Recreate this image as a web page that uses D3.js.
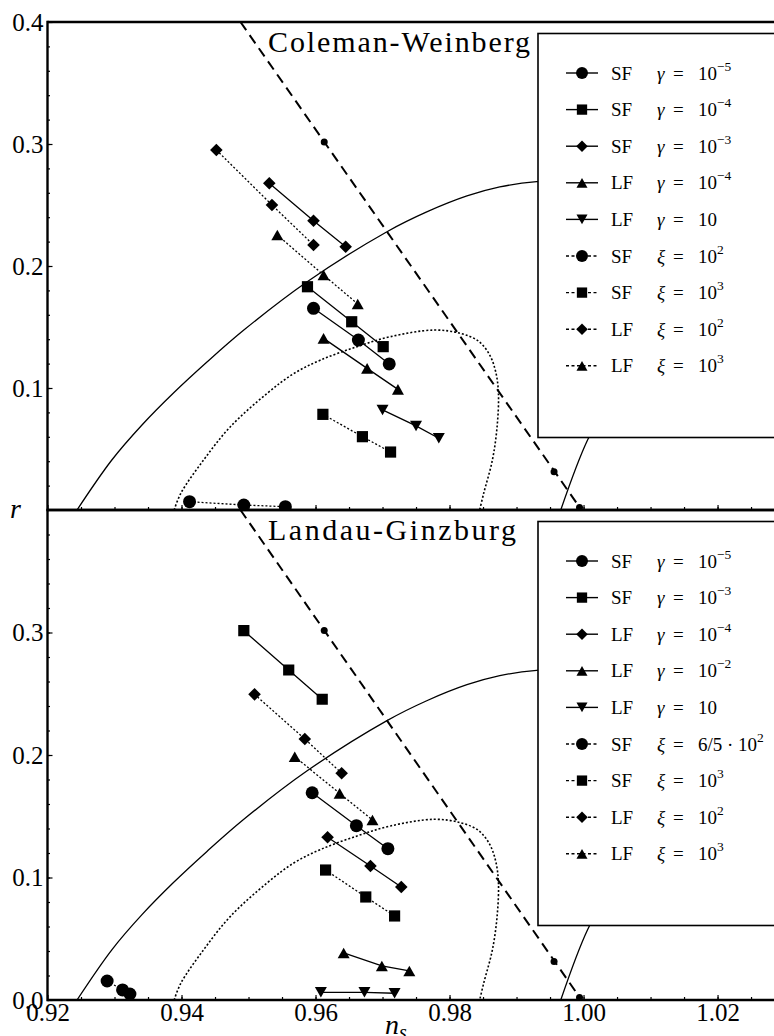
<!DOCTYPE html>
<html>
<head>
<meta charset="utf-8">
<script src="https://cdn.jsdelivr.net/npm/d3@7"></script>
<style>
  body { margin: 0; background: #fff; }
  svg { display: block; }
  svg text { font-family: 'Liberation Serif', serif; }
</style>
</head>
<body>
<div id="root"></div>
<script>
// -------- data (n_s, r) --------
const nsTicks = [0.92, 0.94, 0.96, 0.98, 1.00, 1.02]
const rTicksTop = [0.1, 0.2, 0.3, 0.4]
const rTicksBottom = [0.0, 0.1, 0.2, 0.3]

// observational contours (same in both panels)
const contourOuter = [
  [0.9244, 0], [0.9296, 0.0410], [0.9341, 0.0697], [0.9388, 0.0959], [0.9438, 0.1213],
  [0.9493, 0.1475], [0.9587, 0.1869], [0.9706, 0.2279], [0.9766, 0.2443], [0.9826, 0.2574],
  [0.9875, 0.2648], [0.9930, 0.2691], [0.9980, 0.2700], [1.0020, 0.2650], [1.0050, 0.2500],
  [1.0070, 0.2200], [1.0080, 0.1800], [1.0070, 0.1400], [1.0050, 0.1000], [1.0006, 0.0574],
  [0.9966, 0]
]
const contourInner = [
  [0.9389, 0], [0.9399, 0.0137], [0.9433, 0.0410], [0.9473, 0.0683], [0.9528, 0.0957],
  [0.9568, 0.1120], [0.9608, 0.1230], [0.9662, 0.1339], [0.9712, 0.1421], [0.9777, 0.1475],
  [0.9816, 0.1448], [0.9843, 0.1385], [0.9860, 0.1270], [0.9869, 0.1131], [0.9873, 0.0957],
  [0.9871, 0.0683], [0.9864, 0.0410], [0.9851, 0.0137], [0.9845, 0]
]
const dashedLine = [[0.9488, 0.4], [0.9997, 0]]
const dashedDots = [[0.9613, 0.3016], [0.9956, 0.0314], [0.9994, 0.0020]]

// Coleman-Weinberg
const cwSFg5 = [[0.9597, 0.1653], [0.9664, 0.1393], [0.9710, 0.1197]]
const cwSFg4 = [[0.9588, 0.1830], [0.9654, 0.1543], [0.9701, 0.1339]]
const cwSFg3 = [[0.9531, 0.2678], [0.9597, 0.2371], [0.9645, 0.2158]]
const cwLFg4 = [[0.9612, 0.1407], [0.9677, 0.1161], [0.9723, 0.0989]]
const cwLFg10 = [[0.9700, 0.0820], [0.9750, 0.0689], [0.9784, 0.0588]]
const cwSFx2 = [[0.9412, 0.0068], [0.9493, 0.0041], [0.9555, 0.0027]]
const cwSFx3 = [[0.9611, 0.0784], [0.9670, 0.0601], [0.9712, 0.0475]]
const cwLFx2 = [[0.9452, 0.2951], [0.9535, 0.2500], [0.9597, 0.2172]]
const cwLFx3 = [[0.9543, 0.2254], [0.9612, 0.1926], [0.9663, 0.1689]]

// Landau-Ginzburg
const lgSFg5 = [[0.9595, 0.1692], [0.9661, 0.1423], [0.9708, 0.1235]]
const lgSFg3 = [[0.9493, 0.3015], [0.9560, 0.2694], [0.9610, 0.2455]]
const lgLFg4 = [[0.9618, 0.1328], [0.9682, 0.1094], [0.9728, 0.0922]]
const lgLFg2 = [[0.9642, 0.0384], [0.9699, 0.0278], [0.9740, 0.0237]]
const lgLFg10 = [[0.9608, 0.0063], [0.9673, 0.0063], [0.9718, 0.0055]]
const lgSFx120 = [[0.9289, 0.0155], [0.9312, 0.0082], [0.9323, 0.0049]]
const lgSFx3 = [[0.9615, 0.1061], [0.9675, 0.0841], [0.9718, 0.0686]]
const lgLFx2 = [[0.9509, 0.2495], [0.9584, 0.2131], [0.9639, 0.1851]]
const lgLFx3 = [[0.9569, 0.1986], [0.9636, 0.1687], [0.9685, 0.1469]]

// legend labels: model, symbol, base, exponent
const cwLabels = [
  ['SF', 'γ', '10', '−5'], ['SF', 'γ', '10', '−4'], ['SF', 'γ', '10', '−3'],
  ['LF', 'γ', '10', '−4'], ['LF', 'γ', '10', ''], ['SF', 'ξ', '10', '2'],
  ['SF', 'ξ', '10', '3'], ['LF', 'ξ', '10', '2'], ['LF', 'ξ', '10', '3']
]
const lgLabels = [
  ['SF', 'γ', '10', '−5'], ['SF', 'γ', '10', '−3'], ['LF', 'γ', '10', '−4'],
  ['LF', 'γ', '10', '−2'], ['LF', 'γ', '10', ''], ['SF', 'ξ', '6/5 · 10', '2'],
  ['SF', 'ξ', '10', '3'], ['LF', 'ξ', '10', '2'], ['LF', 'ξ', '10', '3']
]

// marker / line style per legend row (same order in both panels)
const shapes = ['circle', 'square', 'diamond', 'up', 'down', 'circle', 'square', 'diamond', 'up']
const dotted = [false, false, false, false, false, true, true, true, true]

// -------- drawing --------
const FONT = 'Liberation Serif, serif'
const width = 774
const height = 1036

const svg = d3.select('#root').append('svg')
  .attr('width', width)
  .attr('height', height)

const x = d3.scaleLinear().domain([0.92, 1.0285]).range([47.5, 774.5])

function markerPath(shape, big) {
  const s = big ? 1 : 0.92
  if (shape === 'circle') return d3.symbol(d3.symbolCircle, Math.PI * 6.5 * 6.5 * s * s)()
  if (shape === 'square') { const h = 5.6 * s; return `M${-h},${-h}H${h}V${h}H${-h}Z` }
  if (shape === 'diamond') { const h = 6.3 * s; return `M0,${-h}L${h},0L0,${h}L${-h},0Z` }
  const w = 6 * s, h = 5.3 * s
  if (shape === 'up') return `M0,${-h}L${w},${h}L${-w},${h}Z`
  return `M0,${h}L${w},${-h}L${-w},${-h}Z`
}

function panel(opts) {
  const y = d3.scaleLinear().domain([0, 0.4]).range(opts.range)
  const g = svg.append('g')

  const clipId = 'clip-' + opts.id
  svg.append('clipPath').attr('id', clipId)
    .append('rect')
    .attr('x', x(0.92)).attr('y', y(0.4))
    .attr('width', width - x(0.92)).attr('height', y(0) - y(0.4))

  const plot = g.append('g').attr('clip-path', `url(#${clipId})`)
  const line = d3.line().x(d => x(d[0])).y(d => y(d[1]))
  const curve = d3.line().x(d => x(d[0])).y(d => y(d[1])).curve(d3.curveCatmullRom.alpha(0.5))

  plot.append('path').attr('d', curve(contourOuter))
    .attr('fill', 'none').attr('stroke', '#000').attr('stroke-width', 1.3)
  plot.append('path').attr('d', curve(contourInner))
    .attr('fill', 'none').attr('stroke', '#000').attr('stroke-width', 1.6)
    .attr('stroke-dasharray', '2,2')
  plot.append('path').attr('d', line(dashedLine))
    .attr('fill', 'none').attr('stroke', '#000').attr('stroke-width', 2)
    .attr('stroke-dasharray', '10,6')
  plot.selectAll('.dd').data(dashedDots).enter().append('circle')
    .attr('cx', d => x(d[0])).attr('cy', d => y(d[1])).attr('r', 3.5)

  opts.series.forEach((pts, i) => {
    plot.append('path').attr('d', line(pts))
      .attr('fill', 'none').attr('stroke', '#000').attr('stroke-width', 1.3)
      .attr('stroke-dasharray', dotted[i] ? '2,2' : null)
    plot.selectAll(null).data(pts).enter().append('path')
      .attr('d', markerPath(shapes[i], true))
      .attr('transform', d => `translate(${x(d[0])},${y(d[1])})`)
  })

  // minor ticks
  const minorX = d3.range(0.925, 1.03, 0.005)
  g.append('g').attr('transform', `translate(0,${y(0)})`)
    .call(d3.axisBottom(x).tickValues(minorX).tickSizeInner(-3).tickSizeOuter(0).tickFormat(''))
    .call(a => a.select('.domain').remove())
  g.append('g').attr('transform', `translate(${x(0.92)},0)`)
    .call(d3.axisLeft(y).tickValues(d3.range(0.02, 0.4, 0.02)).tickSizeInner(-2.5).tickSizeOuter(0).tickFormat(''))
    .call(a => a.select('.domain').remove())

  // major ticks + labels
  const xa = g.append('g').attr('transform', `translate(0,${y(0)})`)
    .call(d3.axisBottom(x).tickValues(nsTicks).tickSizeInner(-5).tickSizeOuter(0)
      .tickPadding(3).tickFormat(opts.xLabels ? d3.format('.2f') : ''))
  const ya = g.append('g').attr('transform', `translate(${x(0.92)},0)`)
    .call(d3.axisLeft(y).tickValues(opts.yTicks).tickSizeInner(-5).tickSizeOuter(0)
      .tickPadding(4).tickFormat(d3.format('.1f')))
  ;[xa, ya].forEach(a => {
    a.attr('font-family', FONT).attr('font-size', 25)
    a.select('.domain').remove()
  })
  g.selectAll('.tick line').attr('stroke-width', 1.2)

  // frame lines
  g.append('line').attr('x1', x(0.92)).attr('x2', width).attr('y1', y(0)).attr('y2', y(0))
    .attr('stroke', '#000').attr('stroke-width', 2.4)
  g.append('line').attr('x1', x(0.92)).attr('x2', width).attr('y1', y(0.4)).attr('y2', y(0.4))
    .attr('stroke', '#000').attr('stroke-width', 2.4)
  g.append('line').attr('x1', x(0.92)).attr('x2', x(0.92)).attr('y1', y(0.4) - 1.2).attr('y2', y(0) + 1.2)
    .attr('stroke', '#000').attr('stroke-width', 2.4)

  // title
  g.append('text').attr('x', 268).attr('y', y(0.4) + 30)
    .attr('font-size', 30).attr('textLength', opts.titleWidth).attr('lengthAdjust', 'spacing')
    .text(opts.title)

  // legend
  const top = y(0.4) + 11.5
  const lg = g.append('g')
  lg.append('rect').attr('x', 538).attr('y', top).attr('width', 260).attr('height', 404)
    .attr('fill', '#fff').attr('stroke', '#000').attr('stroke-width', 1.6)
  opts.labels.forEach((lab, i) => {
    const ry = top + 39.5 + i * 36.6
    lg.append('line').attr('x1', 566).attr('x2', 598).attr('y1', ry).attr('y2', ry)
      .attr('stroke', '#000').attr('stroke-width', 1.4)
      .attr('stroke-dasharray', dotted[i] ? '3,2.5' : null)
    lg.append('path').attr('d', markerPath(shapes[i], false)).attr('transform', `translate(582,${ry})`)
    lg.append('text').attr('x', 611).attr('y', ry + 6.5).attr('font-size', 19).text(lab[0])
    lg.append('text').attr('x', 657).attr('y', ry + 6.5).attr('font-size', 19)
      .attr('font-style', 'italic').text(lab[1])
    lg.append('text').attr('x', 673).attr('y', ry + 6.5).attr('font-size', 19).text('=')
    const t = lg.append('text').attr('x', 698).attr('y', ry + 6.5).attr('font-size', 19)
    t.append('tspan').text(lab[2])
    if (lab[3]) t.append('tspan').attr('font-size', 13.5).attr('dy', -9).text(lab[3])
  })
}

panel({ id: 'cw', range: [510, 22], title: 'Coleman-Weinberg', titleWidth: 262,
  series: [cwSFg5, cwSFg4, cwSFg3, cwLFg4, cwLFg10, cwSFx2, cwSFx3, cwLFx2, cwLFx3],
  labels: cwLabels, yTicks: rTicksTop, xLabels: false })
panel({ id: 'lg', range: [1000, 510], title: 'Landau-Ginzburg', titleWidth: 248,
  series: [lgSFg5, lgSFg3, lgLFg4, lgLFg2, lgLFg10, lgSFx120, lgSFx3, lgLFx2, lgLFx3],
  labels: lgLabels, yTicks: rTicksBottom, xLabels: true })

// axis titles
svg.append('text').attr('x', 10).attr('y', 518).attr('font-size', 28)
  .attr('font-style', 'italic').text('r')
const ns = svg.append('text').attr('x', 385).attr('y', 1034).attr('font-size', 28)
  .attr('font-style', 'italic')
ns.append('tspan').text('n')
ns.append('tspan').attr('font-size', 20).attr('dy', 5).text('s')
</script>
</body>
</html>
